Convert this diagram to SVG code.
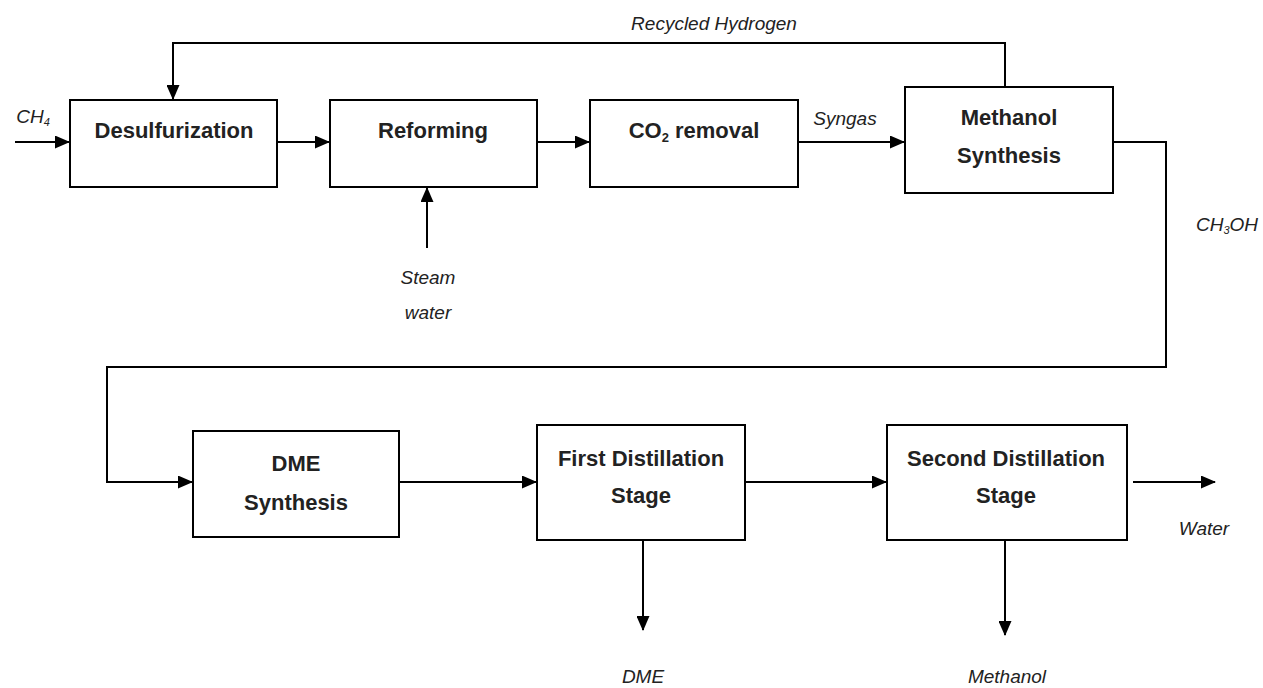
<svg xmlns="http://www.w3.org/2000/svg" width="1263" height="688" viewBox="0 0 1263 688">
<defs>
<marker id="ah" markerWidth="15" markerHeight="13" refX="14" refY="6.5" orient="auto" markerUnits="userSpaceOnUse">
<path d="M0,0 L15,6.5 L0,13 Z" fill="#000"/>
</marker>
<style>
.box{fill:#fff;stroke:#000;stroke-width:2}
.lbl{font-family:"Liberation Sans",Arial,sans-serif;font-weight:bold;font-size:22px;fill:#222;text-anchor:middle}
.it{font-family:"Liberation Sans",Arial,sans-serif;font-style:italic;font-size:19px;fill:#222;text-anchor:middle}
.c{fill:none;stroke:#000;stroke-width:2}
</style>
</defs>
<rect width="1263" height="688" fill="#fff"/>
<g id="connectors">
<path class="c" d="M15,142 H69" marker-end="url(#ah)"/>
<path class="c" d="M277,142 H329" marker-end="url(#ah)"/>
<path class="c" d="M537,142 H589" marker-end="url(#ah)"/>
<path class="c" d="M798,142 H904" marker-end="url(#ah)"/>
<path class="c" d="M427,248 V188" marker-end="url(#ah)"/>
<path class="c" d="M1005,87 V43 H173 V99" marker-end="url(#ah)"/>
<path class="c" d="M1113,142 H1166 V367 H107 V482 H192" marker-end="url(#ah)"/>
<path class="c" d="M399,482 H536" marker-end="url(#ah)"/>
<path class="c" d="M745,482 H886" marker-end="url(#ah)"/>
<path class="c" d="M1133,482 H1215" marker-end="url(#ah)"/>
<path class="c" d="M643,540 V630" marker-end="url(#ah)"/>
<path class="c" d="M1005,540 V635" marker-end="url(#ah)"/>
</g>
<g id="desulfurization"><rect class="box" x="70" y="100" width="207" height="87"/><text class="lbl" x="174" y="138">Desulfurization</text></g>
<g id="reforming"><rect class="box" x="330" y="100" width="207" height="87"/><text class="lbl" x="433" y="138">Reforming</text></g>
<g id="co2removal"><rect class="box" x="590" y="100" width="208" height="87"/><text class="lbl" x="694" y="138">CO<tspan font-size="13" dy="4">2</tspan><tspan dy="-4"> removal</tspan></text></g>
<g id="methanol-synthesis"><rect class="box" x="905" y="87" width="208" height="106"/><text class="lbl" x="1009" y="125">Methanol</text><text class="lbl" x="1009" y="163">Synthesis</text></g>
<g id="dme-synthesis"><rect class="box" x="193" y="431" width="206" height="106"/><text class="lbl" x="296" y="471">DME</text><text class="lbl" x="296" y="510">Synthesis</text></g>
<g id="first-distillation"><rect class="box" x="537" y="425" width="208" height="115"/><text class="lbl" x="641" y="466">First Distillation</text><text class="lbl" x="641" y="503">Stage</text></g>
<g id="second-distillation"><rect class="box" x="887" y="425" width="240" height="115"/><text class="lbl" x="1006" y="466">Second Distillation</text><text class="lbl" x="1006" y="503">Stage</text></g>
<g id="labels">
<text class="it" x="714" y="30">Recycled Hydrogen</text>
<text class="it" x="33" y="123">CH<tspan font-size="11" dy="3">4</tspan></text>
<text class="it" x="845" y="125">Syngas</text>
<text class="it" x="428" y="284">Steam</text>
<text class="it" x="428" y="319">water</text>
<text class="it" x="1227" y="231">CH<tspan font-size="11" dy="3">3</tspan><tspan dy="-3">OH</tspan></text>
<text class="it" x="1204" y="535">Water</text>
<text class="it" x="643" y="683">DME</text>
<text class="it" x="1007" y="683">Methanol</text>
</g>
</svg>
